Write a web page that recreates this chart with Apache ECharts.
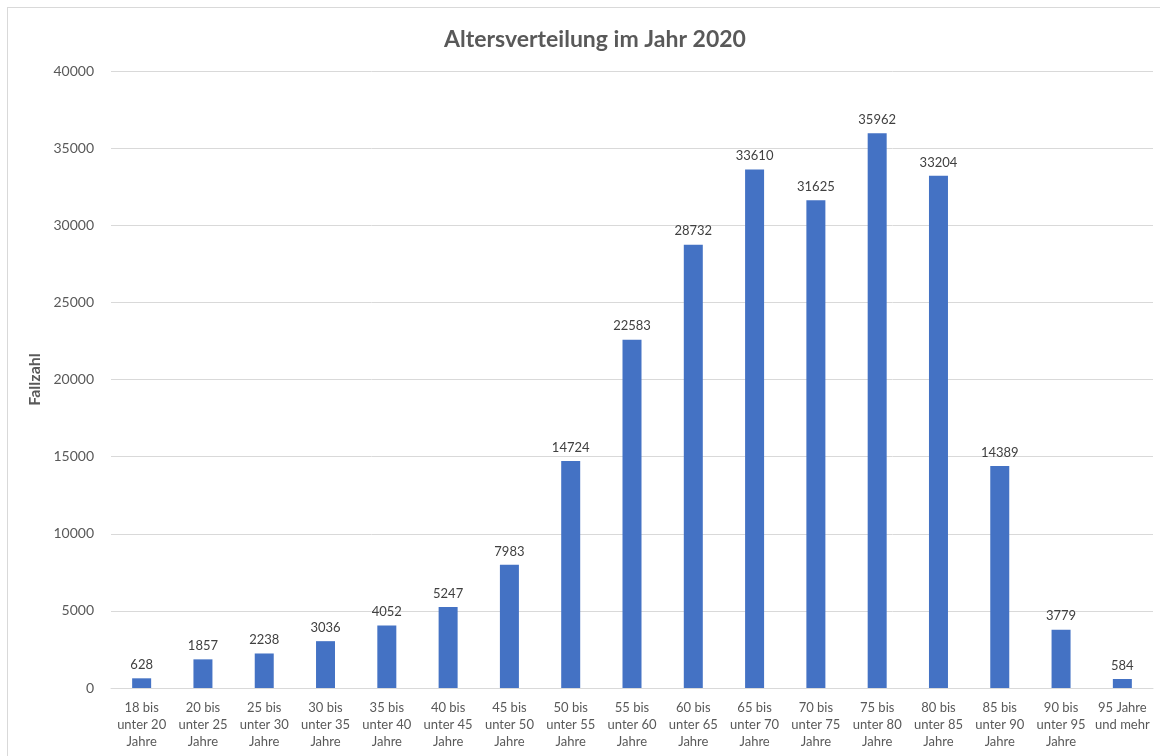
<!DOCTYPE html>
<html><head><meta charset="utf-8">
<script src="https://cdn.jsdelivr.net/npm/echarts@6/dist/echarts.min.js"></script>
<style>html,body{margin:0;padding:0;background:#fff}#c{width:1160px;height:756px}
#frame{position:absolute;left:7px;top:7px;width:1160px;height:760px;border:1px solid #d9d9d9;box-sizing:border-box;pointer-events:none}</style>
</head><body><div id="c"></div><div id="frame"></div>
<script>
const categories = ["18 bis\nunter 20\nJahre","20 bis\nunter 25\nJahre","25 bis\nunter 30\nJahre","30 bis\nunter 35\nJahre","35 bis\nunter 40\nJahre","40 bis\nunter 45\nJahre","45 bis\nunter 50\nJahre","50 bis\nunter 55\nJahre","55 bis\nunter 60\nJahre","60 bis\nunter 65\nJahre","65 bis\nunter 70\nJahre","70 bis\nunter 75\nJahre","75 bis\nunter 80\nJahre","80 bis\nunter 85\nJahre","85 bis\nunter 90\nJahre","90 bis\nunter 95\nJahre","95 Jahre\nund mehr"];
const values = [628,1857,2238,3036,4052,5247,7983,14724,22583,28732,33610,31625,35962,33204,14389,3779,584];
const titleText = "Altersverteilung im Jahr 2020";
const yAxisName = "Fallzahl";
const font = "Lato, 'Open Sans', sans-serif";
const chart = echarts.init(document.getElementById('c'));
chart.setOption({
  animation:false,
  title:{text:titleText,left:590,top:23,textAlign:'center',textStyle:{fontFamily:font,fontSize:23,fontWeight:'bold',color:'#595959'}},
  grid:{left:111,right:7,top:71,bottom:68,containLabel:false},
  xAxis:{type:'category',data:categories,
    axisLine:{lineStyle:{color:'#d9d9d9'}},axisTick:{show:false},
    axisLabel:{interval:0,fontFamily:font,fontSize:13,color:'#595959',lineHeight:17,margin:11}},
  yAxis:{type:'value',min:0,max:40000,interval:5000,
    name:yAxisName,nameLocation:'middle',nameGap:55,nameRotate:90,
    nameTextStyle:{fontFamily:font,fontSize:16,fontWeight:'bold',color:'#595959'},
    axisLine:{show:false},axisTick:{show:false},
    axisLabel:{fontFamily:font,fontSize:14,color:'#595959',margin:17,formatter:function(v){return String(v);}},
    splitLine:{lineStyle:{color:'#d9d9d9'}}},
  series:[{type:'bar',data:values,barWidth:19,itemStyle:{color:'#4472C4'},
    label:{show:true,position:'top',distance:7,fontFamily:font,fontSize:13,color:'#404040'}}]
});
</script></body></html>
